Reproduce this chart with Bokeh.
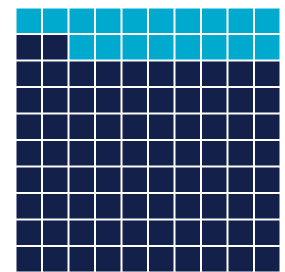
from bokeh.plotting import figure
from bokeh.models import ColumnDataSource, Range1d
from bokeh.embed import file_html
from bokeh.resources import INLINE

categories = ["Light", "Dark"]
counts = [18, 82]
colors = ["#00AACF", "#13214A"]

n_cols = 10
n_rows = 10

# fill from bottom-left, row by row upward: dark first, then light
order = [1, 0]
xs, ys, fills, cats = [], [], [], []
idx = 0
for k in order:
    for _ in range(counts[k]):
        r = idx // n_cols
        c = idx % n_cols
        xs.append(c + 0.5)
        ys.append(r + 0.5)
        fills.append(colors[k])
        cats.append(categories[k])
        idx += 1

src = ColumnDataSource(dict(x=xs, y=ys, fill=fills, cat=cats))

p = figure(frame_width=265, frame_height=265, output_backend="svg", toolbar_location=None,
           x_range=Range1d(0, n_cols), y_range=Range1d(0, n_rows),
           min_border_left=15, min_border_right=5, min_border_top=7, min_border_bottom=0)
p.rect(x="x", y="y", width=0.925, height=0.925, fill_color="fill", line_color=None, source=src)
p.axis.visible = False
p.grid.visible = False
p.outline_line_color = None
p.background_fill_color = "white"
p.border_fill_color = "white"

open("out.html", "w").write(file_html(p, INLINE))
